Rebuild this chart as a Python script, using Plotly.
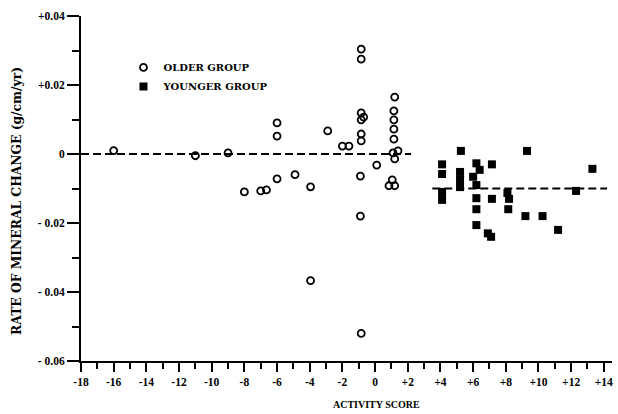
import plotly.graph_objects as go

# Older group (open circles): activity score, rate of mineral change
older_x = [-16, -11, -9, -8, -7, -6.65, -6, -6, -6, -4.9, -3.95, -3.95, -2.9, -2, -1.6,
           -0.85, -0.85, -0.85, -0.7, -0.85, -0.85, -0.85, -0.9, -0.9, -0.85,
           0.1, 1.2, 1.15, 1.15, 1.15, 1.15, 1.4, 1.1, 1.2, 1.05, 0.85, 1.2]
older_y = [0.001, -0.0005, 0.0003, -0.011, -0.0107, -0.0104, 0.009, 0.0052, -0.0072, -0.006,
           -0.0095, -0.0367, 0.0067, 0.0023, 0.0023,
           0.0304, 0.0275, 0.0119, 0.0107, 0.0099, 0.0058, 0.0038, -0.0064, -0.018, -0.052,
           -0.0032, 0.0165, 0.0125, 0.0099, 0.0072, 0.0043, 0.0009, 0.0003, -0.0014,
           -0.0075, -0.0092, -0.0092]

# Younger group (filled squares)
younger_x = [4.1, 4.1, 4.1, 4.1, 5.25, 5.2, 5.2, 5.2, 6.2, 6.4, 6.0, 6.2, 6.2, 6.2, 6.2,
             7.15, 7.15, 6.9, 7.1, 8.1, 8.2, 8.15, 9.3, 9.2, 10.25, 11.2, 12.3, 13.3]
younger_y = [-0.003, -0.0058, -0.011, -0.0133, 0.0009, -0.0052, -0.0075, -0.0096,
             -0.0027, -0.0046, -0.0066, -0.009, -0.0128, -0.016, -0.0206,
             -0.003, -0.013, -0.023, -0.024, -0.0113, -0.013, -0.016,
             0.0009, -0.018, -0.018, -0.022, -0.0107, -0.0043]

# Group mean lines
older_line_x = [-18, 2.2]
older_line_y = [0, 0]
younger_line_x = [3.5, 14.2]
younger_line_y = [-0.01, -0.01]

x_tickvals = list(range(-18, 15, 2))
x_ticktext = [str(v) if v <= 0 else "+" + str(v) for v in x_tickvals]
y_tickvals = [0.04, 0.02, 0, -0.02, -0.04, -0.06]
y_ticktext = ["+0.04", "+0.02", "0", "- 0.02", "- 0.04", "- 0.06"]

FONT = "Liberation Serif"
WIDE = "DejaVu Serif"

fig = go.Figure()
fig.add_trace(go.Scatter(x=older_line_x, y=older_line_y, mode="lines", showlegend=False,
                         line=dict(color="black", width=2, dash="8px,4px"), hoverinfo="skip"))
fig.add_trace(go.Scatter(x=younger_line_x, y=younger_line_y, mode="lines", showlegend=False,
                         line=dict(color="black", width=2, dash="8px,4px"), hoverinfo="skip"))
fig.add_trace(go.Scatter(x=older_x, y=older_y, mode="markers", name="OLDER GROUP",
                         marker=dict(symbol="circle-open", size=7, color="black",
                                     line=dict(width=1.8, color="black"))))
fig.add_trace(go.Scatter(x=younger_x, y=younger_y, mode="markers", name="YOUNGER GROUP",
                         marker=dict(symbol="square", size=8, color="black",
                                     line=dict(width=0))))

fig.update_layout(
    width=618, height=414,
    margin=dict(l=81, r=6, t=16, b=53),
    paper_bgcolor="white", plot_bgcolor="white",
    font=dict(family=FONT, size=11.5, color="black", weight="bold"),
    legend=dict(x=0.08, y=0.893, xanchor="left", yanchor="top",
                bgcolor="rgba(0,0,0,0)", font=dict(size=10, family=WIDE, weight="bold"),
                itemwidth=30, tracegroupgap=0),
    xaxis=dict(range=[-18, 14.5], showline=True, linewidth=2, linecolor="black",
               showgrid=False, zeroline=False, ticks="outside", ticklen=9, tickwidth=2,
               tickcolor="black", tickvals=x_tickvals, ticktext=x_ticktext, automargin=False,
               minor=dict(dtick=1, ticks="outside", ticklen=6, tickwidth=2, tickcolor="black")),
    yaxis=dict(range=[-0.06, 0.04], showline=True, linewidth=2, linecolor="black",
               showgrid=False, zeroline=False, ticks="outside", ticklen=12, tickwidth=2,
               tickcolor="black", tickvals=y_tickvals, ticktext=y_ticktext, automargin=False,
               minor=dict(dtick=0.01, ticks="outside", ticklen=7, tickwidth=2, tickcolor="black")),
    annotations=[
        dict(text="ACTIVITY SCORE", xref="paper", yref="paper", x=0.5556, y=-0.1275,
             xanchor="center", yanchor="middle", showarrow=False,
             font=dict(size=10, family=FONT, weight="bold")),
        dict(text="RATE OF MINERAL CHANGE (g/cm/yr)", xref="paper", yref="paper",
             x=-0.1205, y=0.464, xanchor="center", yanchor="middle", textangle=-90,
             showarrow=False, font=dict(size=12.3, family=WIDE, weight="bold")),
    ],
)

fig.write_html("out.html", config={"displayModeBar": False},
               post_script="document.body.style.margin='0';document.body.style.overflow='hidden';")
